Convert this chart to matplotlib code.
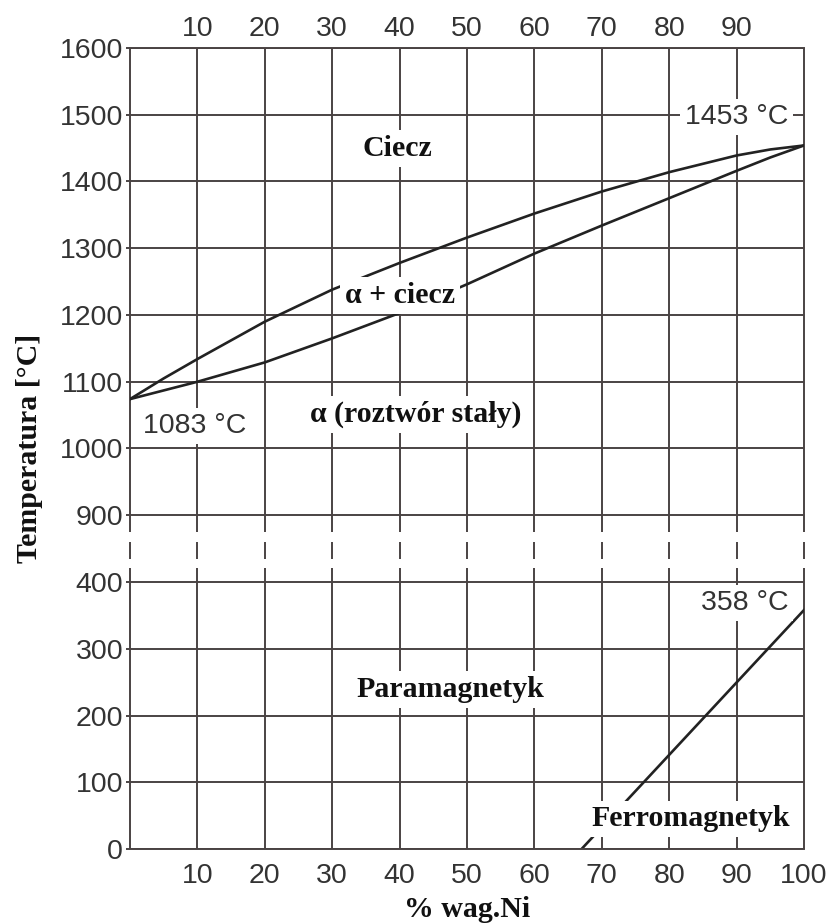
import matplotlib
matplotlib.use("Agg")
import matplotlib.pyplot as plt
import numpy as np

# ---------------- data (temperatures in °C, composition in wt% Ni) ----------------
ni_pct = [0, 5, 10, 20, 30, 40, 50, 60, 70, 80, 90, 95, 100]
liquidus_T = [1074, 1105, 1134, 1190, 1238, 1278, 1316, 1352, 1385, 1414, 1439, 1448, 1454]
solidus_T = [1074, 1087, 1100, 1129, 1165, 1203, 1246, 1292, 1334, 1375, 1416, 1436, 1454]
curie_ni = [67, 100]
curie_T = [0, 358]

top_xticks = [10, 20, 30, 40, 50, 60, 70, 80, 90]
bottom_xticks = [10, 20, 30, 40, 50, 60, 70, 80, 90, 100]
yticks_T = [0, 100, 200, 300, 400, 900, 1000, 1100, 1200, 1300, 1400, 1500, 1600]

# region labels: (text, x, T)
region_labels = [
    ("Ciecz", 39.6, 1438),
    ("α + ciecz", 40.1, 1218),
    ("α (roztwór stały)", 42.4, 1040),
    ("Paramagnetyk", 47.5, 228),
    ("Ferromagnetyk", 83.2, 34),
]
temp_labels = [
    ("1083 °C", 9.6, 1023),
    ("1453 °C", 90.0, 1486),
    ("358 °C", 91.2, 358),
]

# ---------------- broken axis mapping ----------------
BREAK_LOW, BREAK_HIGH = 400, 900   # temperatures at the axis break
GAP = 100                          # visual height of the gap in axis units


def to_v(T):
    T = np.asarray(T, dtype=float)
    return np.where(T <= BREAK_LOW + 50, T, T - (BREAK_HIGH - BREAK_LOW - GAP))


GRID_C = "#4a4343"
LINE_C = "#222222"
TICK_C = "#333333"

fig = plt.figure(figsize=(8.37, 9.23), dpi=100)
ax = fig.add_axes([130 / 837, 74 / 923, 674 / 837, 801 / 923])
ax.set_xlim(0, 100)
ax.set_ylim(0, 1200)

# horizontal grid
yv = to_v(yticks_T)
ax.set_yticks(yv)
ax.set_yticklabels([str(t) for t in yticks_T])
ax.grid(axis="y", color=GRID_C, lw=1.4, zorder=1)

# vertical lines with the break pattern
seg_lower = (0, 420.5)
seg_dash = (434.5, 460.5)
seg_upper = (475.5, 1200)
vx = [0] + bottom_xticks
for lo, hi in (seg_lower, seg_dash, seg_upper):
    ax.vlines(vx, lo, hi, colors=GRID_C, lw=1.4, zorder=1, clip_on=False)

for s in ("left", "right"):
    ax.spines[s].set_visible(False)
for s in ("top", "bottom"):
    ax.spines[s].set_color(GRID_C)
    ax.spines[s].set_linewidth(1.4)

# curves
ax.plot(ni_pct, to_v(liquidus_T), color=LINE_C, lw=1.9, zorder=2, solid_joinstyle="round")
ax.plot(ni_pct, to_v(solidus_T), color=LINE_C, lw=1.9, zorder=2, solid_joinstyle="round")
ax.plot(curie_ni, to_v(curie_T), color=LINE_C, lw=1.9, zorder=2)

# ticks
ax.set_xticks(bottom_xticks)
ax.set_xticklabels([str(t) for t in bottom_xticks])
ax.tick_params(axis="x", length=0, pad=10, labelsize=20.5, labelcolor=TICK_C)
ax.tick_params(axis="y", length=3, width=1.4, color=GRID_C, pad=2, labelsize=20.5, labelcolor=TICK_C)
for lab in ax.get_xticklabels() + ax.get_yticklabels():
    lab.set_family("Liberation Sans")

secx = ax.secondary_xaxis("top")
secx.set_xticks(top_xticks)
secx.set_xticklabels([str(t) for t in top_xticks])
secx.tick_params(axis="x", length=0, pad=4, labelsize=20.5, labelcolor=TICK_C)
secx.spines["top"].set_visible(False)
for lab in secx.get_xticklabels():
    lab.set_family("Liberation Sans")

serif = dict(family="Liberation Serif", weight="bold", color="#111111")
box = dict(facecolor="white", edgecolor="none", pad=3.5)

for txt, x, T in region_labels:
    ax.text(x, float(to_v(T)), txt, ha="center", va="baseline", fontsize=21.5,
            bbox=box, zorder=4, **serif)

for txt, x, T in temp_labels:
    ax.text(x, float(to_v(T)), txt, ha="center", va="baseline", fontsize=20.5,
            family="Liberation Sans", color=TICK_C, bbox=box, zorder=4)

ax.set_xlabel("% wag.Ni", fontsize=21.5, labelpad=5, **serif)
ax.set_ylabel("Temperatura [°C]", fontsize=21.5, labelpad=12, **serif)

fig.savefig("out.png", dpi=100, facecolor="white")
